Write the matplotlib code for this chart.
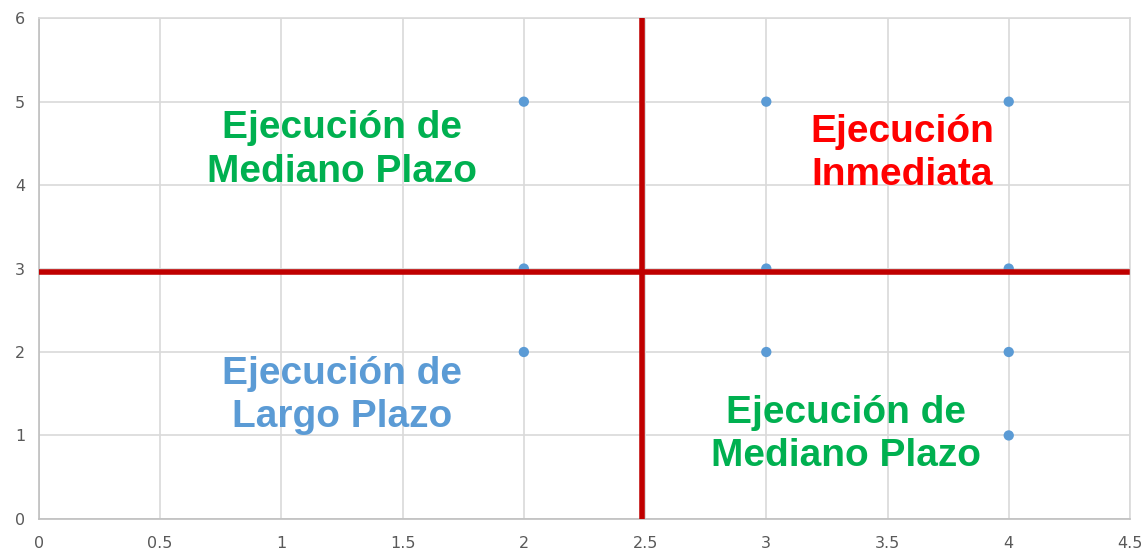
import matplotlib.pyplot as plt

# data
x_pts = [2, 3, 4, 2, 3, 4, 2, 3, 4, 4]
y_pts = [5, 5, 5, 3, 3, 3, 2, 2, 2, 1]

x_ticks = [0, 0.5, 1, 1.5, 2, 2.5, 3, 3.5, 4, 4.5]
x_tick_labels = ["0", "0.5", "1", "1.5", "2", "2.5", "3", "3.5", "4", "4.5"]
y_ticks = [0, 1, 2, 3, 4, 5, 6]

split_x = 2.487
split_y = 2.96

labels = [
    "Ejecución de\nMediano Plazo",
    "Ejecución\nInmediata",
    "Ejecución de\nLargo Plazo",
    "Ejecución de\nMediano Plazo",
]
label_x = [1.25, 3.56, 1.25, 3.33]
label_y = [4.42, 4.38, 1.48, 1.01]
label_colors = ["#00B050", "#FF0000", "#5B9BD5", "#00B050"]

fig = plt.figure(figsize=(11.46, 5.52), dpi=100)
ax = fig.add_axes([0.034, 0.06, 0.952, 0.907])

ax.scatter(x_pts, y_pts, s=55, color="#5B9BD5", zorder=3, edgecolors="none")

ax.axvline(split_x, color="#C00000", lw=4, zorder=4)
ax.axhline(split_y, xmax=0.997, color="#C00000", lw=4, zorder=4)

for txt, tx, ty, c in zip(labels, label_x, label_y, label_colors):
    ax.text(tx, ty, txt, color=c, ha="center", va="center", fontsize=28,
            fontweight="bold", family="Liberation Sans", linespacing=1.26, zorder=5)

ax.set_xlim(0, 4.5)
ax.set_ylim(0, 6)
ax.set_xticks(x_ticks)
ax.set_xticklabels(x_tick_labels)
ax.set_yticks(y_ticks)
ax.grid(True, color="#D9D9D9", lw=1.2)
ax.set_axisbelow(True)
for sp in ax.spines.values():
    sp.set_color("#D9D9D9")
    sp.set_linewidth(1.2)
ax.spines["bottom"].set_color("#BFBFBF")
ax.spines["left"].set_color("#BFBFBF")
ax.tick_params(length=0, labelsize=11.5, colors="#595959", pad=10)
ax.tick_params(axis="x", pad=12)

fig.savefig("out.png", dpi=100)
